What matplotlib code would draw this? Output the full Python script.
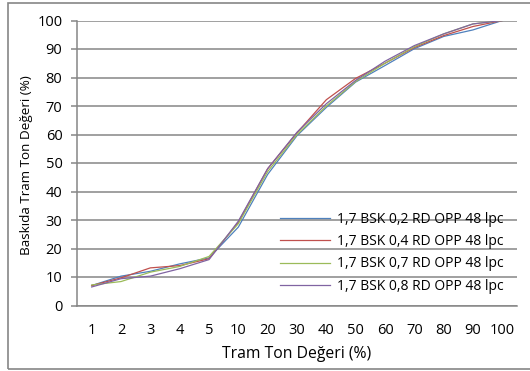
import matplotlib
matplotlib.use("Agg")
import matplotlib.pyplot as plt
from matplotlib.patches import Rectangle

categories = ["1", "2", "3", "4", "5", "10", "20", "30", "40", "50", "60", "70", "80", "90", "100"]
s02 = [7.0, 10.3, 12.0, 14.6, 16.7, 27.5, 46.0, 59.6, 69.5, 78.4, 84.2, 90.1, 94.4, 96.7, 100]
s04 = [7.0, 9.7, 13.2, 14.0, 16.4, 29.2, 48.0, 60.6, 72.2, 79.7, 85.0, 90.5, 94.7, 97.9, 100]
s07 = [7.2, 8.4, 11.7, 13.7, 17.2, 28.7, 47.0, 60.0, 70.0, 78.6, 85.0, 90.8, 95.3, 98.8, 100]
s08 = [6.5, 9.4, 10.3, 12.9, 16.1, 29.6, 48.0, 60.8, 70.8, 79.0, 85.7, 91.2, 95.3, 98.8, 100]
labels = ["1,7 BSK 0,2 RD OPP 48 lpc", "1,7 BSK 0,4 RD OPP 48 lpc",
          "1,7 BSK 0,7 RD OPP 48 lpc", "1,7 BSK 0,8 RD OPP 48 lpc"]
colors = ["#4F81BD", "#C0504D", "#9BBB59", "#8064A2"]
yticks = list(range(0, 101, 10))

plt.rcParams['font.family'] = ['Open Sans', 'DejaVu Sans']
FS = 10
W, H = 530, 371
fig = plt.figure(figsize=(W / 100, H / 100), dpi=100)
ax = fig.add_axes([77 / W, 1 - 305.5 / H, 440 / W, 285 / H])

fig.patches.append(Rectangle((7.5 / W, 1 - 369 / H), 1.0, 366 / H, transform=fig.transFigure,
                             fill=False, edgecolor="#868686", linewidth=1.2))

x = list(range(len(categories)))
for ys, c, lab in zip([s02, s04, s07, s08], colors, labels):
    ax.plot(x, ys, color=c, linewidth=0.9, label=lab, zorder=3)

ax.set_xlim(-0.5, len(categories) - 0.5)
ax.set_ylim(0, 100)
ax.set_yticks(yticks)
ax.set_xticks(x)
ax.set_xticklabels(categories)
ax.grid(axis='y', color="#868686", linewidth=1.1)
ax.set_axisbelow(True)
for sp in ['top', 'right']:
    ax.spines[sp].set_visible(False)
for sp in ['left', 'bottom']:
    ax.spines[sp].set_color("#868686")
    ax.spines[sp].set_linewidth(1.1)
ax.tick_params(axis='x', length=0, pad=12.5, labelsize=10.5, labelcolor='black')
ax.tick_params(axis='y', length=4, width=1.1, color="#868686", pad=6.5, labelsize=10.5)

fig.text(27 / W, 1 - 165 / H, "Baskıda Tram Ton Değeri (%)", rotation=90,
         ha='center', va='center', fontsize=9.7)
fig.text(297 / W, 1 - 354 / H, "Tram Ton Değeri (%)", ha='center', va='center', fontsize=11.3)

fig.legend(loc='upper left', bbox_to_anchor=(280 / W, 1 - 212 / H), bbox_transform=fig.transFigure,
           frameon=False, fontsize=FS, handlelength=3.6, handletextpad=0.5,
           labelspacing=0.52, borderpad=0, borderaxespad=0)

fig.savefig("out.png", dpi=100)
